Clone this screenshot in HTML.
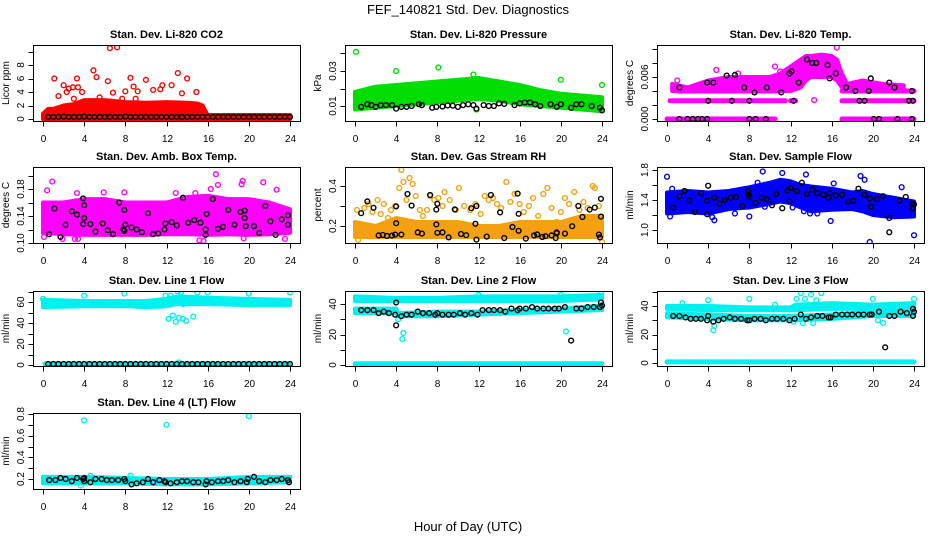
<!DOCTYPE html>
<html><head><meta charset="utf-8">
<style>
html,body{margin:0;padding:0;background:#fff;}
svg{display:block;font-family:"Liberation Sans",Arial,sans-serif;}
.t{font-weight:bold;font-size:11px;}
.tk{font-size:10px;}
</style></head>
<body>
<svg id="c" width="936" height="540" viewBox="0 0 936 540">
<text x="468" y="14" text-anchor="middle" font-size="13">FEF_140821  Std. Dev. Diagnostics</text>
<text x="468" y="531" text-anchor="middle" font-size="13">Hour of Day (UTC)</text>
</svg>
<script>
// ---------- data ----------
const xTicks=[0,4,8,12,16,20,24];
// CO2
const co2BandH=[0,0.5,1,2,3,4,6,8,10,12,14,15,15.5,16,24];
const co2BandLo=[0,0,0,0,0,0,0,0,0,0,0,0,0,0,0];
const co2BandHi=[0.8,1.5,1.5,2,2.2,2.8,2.8,2.5,2.4,2.5,2.4,2.3,2,0.6,0.6];
const co2OutH=[1.1,1.5,2,2.3,2.5,2.9,3,3.3,3.4,3.8,4.9,5.2,5.5,6.3,6.5,7.2,6.8,7.7,8,8.5,8.8,9.2,9,10,10.7,11.4,11.6,12.5,13.1,13.5,14,14.9];
const co2OutV=[6,3.4,5,4,4.5,4.7,3,6,4.7,4,7.2,6.2,3.2,5.6,10.5,10.6,3.9,3,4.1,6.1,4.8,4.1,3,5.8,4.3,4.4,5,5,6.8,3.8,6,4];
const co2BlkH=[0.5,1,1.5,2,2.5,3,3.5,4,4.5,5,5.5,6,6.5,7,7.5,8,8.5,9,9.5,10,10.5,11,11.5,12,12.5,13,13.5,14,14.5,15,15.5,16,16.5,17,17.5,18,18.5,19,19.5,20,20.5,21,21.5,22,22.5,23,23.5,24];
const co2BlkV=[0.3,0.3,0.3,0.35,0.3,0.3,0.3,0.35,0.3,0.3,0.3,0.3,0.3,0.3,0.3,0.35,0.3,0.3,0.3,0.3,0.3,0.3,0.3,0.3,0.3,0.3,0.3,0.3,0.3,0.3,0.3,0.3,0.3,0.3,0.3,0.3,0.3,0.3,0.3,0.3,0.3,0.3,0.3,0.3,0.3,0.3,0.3,0.3];
// Pressure
const prBandH=[0,2,4,6,8,10,12,14,16,18,20,22,24];
const prBandLo=[0.008,0.009,0.010,0.011,0.012,0.013,0.014,0.013,0.011,0.010,0.009,0.008,0.007];
const prBandHi=[0.018,0.021,0.022,0.023,0.024,0.025,0.026,0.024,0.022,0.019,0.017,0.016,0.015];
const prOutH=[0.1,4,8.1,11.5,20,24,11.8];
const prOutV=[0.041,0.030,0.032,0.028,0.025,0.022,0.008];
const prBlkH=[0.6,1.2,1.6,2,2.5,3,3.6,4,4.5,5,5.5,6.2,6.5,7.5,7.9,8.5,9,9.5,10,10.5,11,11.5,11.8,12.5,13,13.5,14,14.5,15.5,16,16.5,17,17.5,18,19,19.6,20,21,21.5,22,23,23.8,24];
const prBlkV=[0.0095,0.011,0.0105,0.0095,0.0105,0.0105,0.0105,0.0085,0.0095,0.0095,0.01,0.011,0.0105,0.009,0.0095,0.0097,0.0103,0.0102,0.0095,0.0105,0.011,0.0105,0.0085,0.0105,0.01,0.01,0.0115,0.0112,0.0105,0.0115,0.012,0.012,0.011,0.01,0.011,0.0095,0.011,0.009,0.011,0.011,0.01,0.009,0.0075];
// Li-820 Temp
const tmSegLvl=[0,0,0.0026,0.0026,0.0026,0.004,0.004];
const tmSegStart=[0,17,0.3,12,17,1,17];
const tmSegEnd=[10.5,24,11.5,12.5,24,11,24];
const tmBandH=[0.5,2,4,6,8,10,11,12,13,13.5,14,15,16,16.5,17,17.5,19,21,23];
const tmBandLo=[0.004,0.004,0.004,0.004,0.004,0.004,0.004,0.004,0.0045,0.0055,0.006,0.006,0.006,0.0055,0.0045,0.004,0.004,0.004,0.004];
const tmBandHi=[0.005,0.0045,0.0055,0.006,0.006,0.006,0.0065,0.0075,0.0085,0.009,0.009,0.0092,0.009,0.0085,0.0065,0.005,0.0055,0.005,0.0048];
const tmOutH=[16.5,1,4.8,6.9,10.5,11,14.3];
const tmOutV=[0.0102,0.0055,0.007,0.0065,0.0075,0.0068,0.0027];
const tmBlkH=[1.2,3.9,4.5,5.8,6.6,7.5,8.5,9.7,11.1,11.9,12.1,12.8,13.6,14.1,14.5,15.6,15.8,16.4,17.4,18.3,19.6,19.8,21.6,22.1,23.8,4,6.3,8,12.3,18.7,19.2,23.5,23.9,1.2,2,2.5,3,3.4,3.9,8,8.6,9.6,20.1,20.6,22.4,23.8];
const tmBlkV=[0.0045,0.0052,0.0052,0.0062,0.0063,0.0045,0.0038,0.0045,0.0038,0.0065,0.0068,0.0052,0.0085,0.008,0.008,0.0077,0.0058,0.0065,0.0045,0.004,0.004,0.0058,0.0052,0.0045,0.004,0.0026,0.0026,0.0026,0.0026,0.0026,0.0026,0.0026,0.0026,0,0,0,0,0,0,0,0,0,0,0,0,0];
// Amb box temp
const abBandH=[0,2,4,6,8,10,12,14,16,18,20,22,24];
const abBandLo=[0.115,0.113,0.112,0.112,0.112,0.112,0.113,0.113,0.112,0.113,0.112,0.113,0.115];
const abBandHi=[0.16,0.16,0.165,0.165,0.16,0.16,0.16,0.168,0.17,0.165,0.165,0.16,0.15];
const abOutH=[0.1,0.4,0.9,1.9,3.1,3.4,3.3,5.9,7.9,12.9,14.8,15.2,15.6,16.3,16.8,17,19.3,19.4,19.5,21.4,22.7,23.5];
const abOutV=[0.109,0.178,0.191,0.106,0.106,0.106,0.174,0.175,0.175,0.174,0.174,0.104,0.103,0.180,0.202,0.186,0.187,0.192,0.107,0.190,0.179,0.106];
const abBlkH=[0.6,1.1,1.7,2.2,2.8,3.3,3.9,3.9,4,4,4.6,5.1,5.8,6.3,6.8,7.4,7.8,7.9,7.9,8,8.6,9.1,9.6,10.2,10.7,11.2,11.8,11.9,12.5,13,13.6,14.1,14.7,15.3,15.8,15.8,15.9,16.5,17,17.5,18,18.6,19.2,19.6,19.6,19.7,20.5,21,21.6,22.1,22.6,23.2,23.8,23.8];
const abBlkV=[0.113,0.151,0.109,0.127,0.147,0.142,0.166,0.128,0.156,0.137,0.128,0.117,0.129,0.119,0.113,0.160,0.120,0.118,0.149,0.127,0.123,0.120,0.116,0.144,0.113,0.114,0.120,0.129,0.131,0.126,0.167,0.130,0.134,0.130,0.120,0.112,0.143,0.165,0.121,0.124,0.149,0.127,0.146,0.148,0.137,0.125,0.125,0.115,0.155,0.132,0.112,0.135,0.127,0.141];
// Gas stream RH
const rhBandH=[0,2,4,6,8,10,12,14,16,18,20,22,24];
const rhBandLo=[0.145,0.145,0.145,0.145,0.145,0.145,0.145,0.145,0.145,0.145,0.145,0.145,0.145];
const rhBandHi=[0.22,0.2,0.24,0.22,0.22,0.22,0.2,0.2,0.22,0.22,0.22,0.25,0.25];
const rhOutH=[0.2,0.3,0.9,1.3,1.7,2.2,2.5,2.8,3.2,3.5,3.9,4.3,4.5,4.7,5,5.3,5.6,5.9,6.3,6.6,7,7.3,7.7,8.1,8.5,8.7,9.2,9.8,10.1,10.6,11.2,11.7,12.2,12.6,13,13.4,13.8,14.2,14.7,15.1,15.5,16,16.4,16.9,17.3,17.8,18.3,18.7,19.1,19.6,20,20.4,20.8,21.3,21.8,22.2,22.6,23.1,23.3,23.7,24];
const rhOutV=[0.28,0.13,0.29,0.31,0.27,0.33,0.26,0.31,0.24,0.28,0.30,0.39,0.48,0.42,0.33,0.44,0.41,0.35,0.28,0.25,0.28,0.35,0.33,0.34,0.30,0.37,0.33,0.28,0.39,0.30,0.28,0.31,0.26,0.35,0.33,0.34,0.31,0.29,0.42,0.32,0.36,0.31,0.27,0.30,0.34,0.25,0.36,0.39,0.29,0.22,0.27,0.34,0.31,0.37,0.28,0.32,0.29,0.40,0.39,0.30,0.12];
const rhBlkH=[0.6,1.2,1.8,2.3,2.7,3.1,3.6,3.9,4,4,4.5,5.1,5.5,6.1,6.5,7.3,7.9,7.9,8,8,8.5,9.1,9.7,10.3,10.8,11.3,11.7,11.8,11.8,12.8,13.2,14.1,14.5,15.3,15.8,15.9,15.9,16.6,17.4,17.7,18.2,18.5,19.1,19.5,19.6,19.6,20.4,21.1,21.7,22.1,22.8,23.3,23.7,23.8,23.9,23.9];
const rhBlkV=[0.264,0.323,0.291,0.153,0.155,0.150,0.152,0.157,0.214,0.298,0.157,0.360,0.302,0.168,0.162,0.355,0.282,0.208,0.311,0.166,0.168,0.143,0.283,0.160,0.154,0.289,0.211,0.300,0.132,0.147,0.355,0.268,0.140,0.195,0.362,0.261,0.176,0.137,0.153,0.158,0.145,0.149,0.153,0.140,0.168,0.164,0.162,0.199,0.300,0.245,0.282,0.292,0.157,0.143,0.336,0.247];
// Sample flow
const sfBandH=[0,2,4,6,8,10,11,12,13,14,16,18,19,20,22,24];
const sfBandLo=[1.22,1.24,1.22,1.28,1.3,1.35,1.38,1.36,1.3,1.25,1.27,1.28,1.25,1.2,1.17,1.18];
const sfBandHi=[1.5,1.52,1.5,1.52,1.57,1.63,1.67,1.65,1.6,1.58,1.55,1.5,1.52,1.48,1.43,1.38];
const sfOutH=[0,0.3,0.5,4.4,4.6,6.6,8,8.8,9.3,9.5,11.2,12.2,13.5,13.9,14.6,15.9,16.2,18.8,19.2,19.7,24,22.8,13.3];
const sfOutV=[1.71,1.18,1.55,1.17,1.13,1.22,1.18,1.63,1.78,1.31,1.76,1.30,1.74,1.22,1.22,1.12,1.62,1.72,1.67,0.84,0.93,1.57,1.25];
const sfBlkH=[0.6,1.2,1.7,2.2,2.7,3.3,3.9,3.9,4,4.6,5.1,5.6,6.2,6.7,7.3,7.9,7.9,8,8.6,9.2,9.7,10.2,10.6,11.2,11.7,11.9,12,12.6,13.1,13.6,14.1,14.6,15.2,15.7,15.8,16.4,17,17.6,18.1,18.6,19.2,19.7,19.8,20.4,21,21.6,21.6,22.6,23.2,23.8,23.9,24];
const sfBlkV=[1.30,1.45,1.52,1.39,1.24,1.49,1.39,1.21,1.59,1.43,1.35,1.40,1.43,1.44,1.32,1.52,1.47,1.44,1.36,1.43,1.41,1.33,1.48,1.29,1.53,1.38,1.56,1.52,1.63,1.48,1.54,1.49,1.47,1.43,1.49,1.46,1.47,1.38,1.39,1.55,1.47,1.42,1.31,1.41,1.45,1.16,0.97,1.39,1.44,1.35,1.29,1.34];
// Line 1
const l1BandH=[0,4,8,10,12,13,14,16,20,24];
const l1BandLo=[55,56,56,55,56,58,58,58,57,57];
const l1BandHi=[62,61,61,61,63,65,65,64,63,62];
const l1SegLvl=[1];const l1SegStart=[0.2];const l1SegEnd=[24];
const l1OutH=[0,4,7.9,11.9,12.4,13.1,13.4,12.2,12.6,12.9,13.2,13.6,13.9,13.6,14.6,15,16,20,24,13.2];
const l1OutV=[63,66,68,66,66,70,69,44,47,41,45,44,42,58,46,69,69,68,69,2.5];
const l1BlkH=[0.5,1,1.5,2,2.5,3,3.5,4,4.5,5,5.5,6,6.5,7,7.5,8,8.5,9,9.5,10,10.5,11,11.5,12,12.5,13,13.5,14,14.5,15,15.5,16,16.5,17,17.5,18,18.5,19,19.5,20,20.5,21,21.5,22,22.5,23,23.5,24];
const l1BlkV=[1,1,1,1,1,1,1,1,1,1,1,1,1,1,1,1,1,1,1,1,1,1,1,1,1,1,1,1,1,1,1,1,1,1,1,1,1,1,1,1,1,1,1,1,1,1,1,1];
// Line 2
const l2BandH=[0,4,8,12,16,20,24];
const l2BandLo=[42,42,42,42,42,42,43];
const l2BandHi=[45,44,44,45,45,45,46];
const l2Band2H=[0,4,4.2,8,12,16,20,24];
const l2Band2Lo=[34,34,32,32,33,34,35,36];
const l2Band2Hi=[37,37,34,35,35,36,37,39];
const l2SegLvl=[0.8];const l2SegStart=[0];const l2SegEnd=[24];
const l2OutH=[4.6,4.7,20.5,4.2,23.9,12,20];
const l2OutV=[17,21,22,30,48,46,46];
const l2BlkH=[0.6,1.2,1.8,2.3,2.8,3.3,3.9,4,4,4.5,5,5.5,6.1,6.6,7.2,7.8,8,8.5,9.1,9.6,10.2,10.7,11.3,11.9,12.4,13,13.5,14.1,14.6,15.2,15.8,16,16.6,17.2,17.7,18.3,18.8,19.4,19.8,20.4,21,21.5,22,22.6,23.2,23.8,23.9,24];
const l2BlkV=[36,36,36,34,35,34,33,41,26,32,33,33,35,34,34,33,34,33,33,33,34,33,34,33,36,36,36,36,35,37,36,37,37,38,37,37,37,37,37,38,16,37,37,38,38,38,41,39];
// Line 3
const l3BandH=[0,4,8,12,12.5,16,20,24];
const l3BandLo=[38,37,37,37,37,38,38,39];
const l3BandHi=[40,40,39,39,41,42,41,42];
const l3Band2H=[0,4,8,12,16,20,24];
const l3Band2Lo=[32,31,30,30,31,33,33];
const l3Band2Hi=[35,34,33,33,34,36,37];
const l3SegLvl=[0.8];const l3SegStart=[0];const l3SegEnd=[24];
const l3OutH=[1.5,4,4.5,4.6,8,12.6,13,13.4,14,14.5,15,12.3,13.2,14.2,20,20.5,21,24,10.5];
const l3OutV=[42,44,23,26,45,45,49,45,48,44,49,29,28,28,45,30,28,45,41];
const l3BlkH=[0.6,1.2,1.8,2.3,2.8,3.3,3.9,4,4.5,5,5.5,6.1,6.6,7.2,7.8,8,8.5,9.1,9.6,10.2,10.7,11.3,11.9,12.4,13,13.5,14,14.6,15.1,15.7,15.9,16.4,17,17.5,18,18.6,19.1,19.7,19.9,20.6,21.2,21.6,22.1,22.7,23.3,23.9,23.9,24];
const l3BlkV=[33,33,32,31,31,31,30,33,29,30,31,32,31,31,30,30,31,31,30,31,31,31,30,31,34,31,32,33,33,32,32,34,34,34,34,34,34,34,34,36,11,33,33,36,35,33,38,36];
// Line 4
const l4BandH=[0,4,8,12,16,20,24];
const l4BandLo=[0.16,0.16,0.16,0.15,0.15,0.16,0.17];
const l4BandHi=[0.22,0.22,0.21,0.2,0.2,0.22,0.22];
const l4OutH=[4,12,20,3.7,4.6,8.5];
const l4OutV=[0.74,0.7,0.78,0.14,0.23,0.23];
const l4BlkH=[0.6,1.2,1.7,2.2,2.8,3.3,3.9,4,4,4.6,5.1,5.7,6.2,6.7,7.3,7.9,8,8.6,9.1,9.7,10.2,10.7,11.3,11.8,11.9,12.4,13,13.5,14,14.6,15.1,15.8,15.9,16.4,17,17.5,18,18.6,19.2,19.8,19.9,20.5,21,21.6,22.1,22.7,23.2,23.8,23.9];
const l4BlkV=[0.19,0.19,0.21,0.2,0.18,0.21,0.2,0.21,0.18,0.17,0.2,0.2,0.19,0.19,0.19,0.2,0.18,0.15,0.16,0.17,0.2,0.17,0.19,0.18,0.17,0.16,0.17,0.18,0.18,0.17,0.17,0.15,0.18,0.17,0.18,0.18,0.19,0.17,0.18,0.17,0.2,0.22,0.18,0.17,0.19,0.19,0.2,0.19,0.17];

// ---------- layout ----------
const colX=[33,345,657], boxW=267;
const rowY=[[45,121],[167,243],[291,366],[413,489]];
const NS='http://www.w3.org/2000/svg';
const svg=document.getElementById('c');
function mk(tag,attrs,parent){const e=document.createElementNS(NS,tag);for(const k in attrs)e.setAttribute(k,attrs[k]);(parent||svg).appendChild(e);return e;}

const panels=[
 {key:'co2',c:0,r:0,title:'Stan. Dev. Li-820 CO2',ylab:'Licor ppm',col:'#ff0000',ref:[0,119,8,65],ticks:[0,2,4,6,8,10],labs:[0,2,4,6,8],fmt:v=>String(v),
  bands:[[co2BandH,co2BandLo,co2BandHi]],segs:null,out:[co2OutH,co2OutV],blk:[co2BlkH,co2BlkV]},
 {key:'pressure',c:1,r:0,title:'Stan. Dev. Li-820 Pressure',ylab:'kPa',col:'#00dd00',ref:[0.01,106,0.03,71],ticks:[0.01,0.02,0.03,0.04],labs:[0.01,0.03],fmt:v=>v.toFixed(2),
  bands:[[prBandH,prBandLo,prBandHi]],segs:null,out:[prOutH,prOutV],blk:[prBlkH,prBlkV]},
 {key:'li820-temp',c:2,r:0,title:'Stan. Dev. Li-820 Temp.',ylab:'degrees C',col:'#ff00ff',ref:[0,119,0.002,105],ticks:[0,0.002,0.004,0.006,0.008,0.010],labs:[0,0.006],fmt:v=>v.toFixed(3),
  bands:[[tmBandH,tmBandLo,tmBandHi]],segs:[tmSegLvl,tmSegStart,tmSegEnd],out:[tmOutH,tmOutV],blk:[tmBlkH,tmBlkV]},
 {key:'amb-box-temp',c:0,r:1,title:'Stan. Dev. Amb. Box Temp.',ylab:'degrees C',col:'#ff00ff',ref:[0.10,243,0.14,216],ticks:[0.10,0.12,0.14,0.16,0.18,0.20],labs:[0.10,0.14,0.18],fmt:v=>v.toFixed(2),
  bands:[[abBandH,abBandLo,abBandHi]],segs:null,out:[abOutH,abOutV],blk:[abBlkH,abBlkV]},
 {key:'gas-stream-rh',c:1,r:1,title:'Stan. Dev. Gas Stream RH',ylab:'percent',col:'#f5a010',ref:[0.2,226,0.4,186],ticks:[0.2,0.3,0.4],labs:[0.2,0.4],fmt:v=>v.toFixed(1),
  bands:[[rhBandH,rhBandLo,rhBandHi]],segs:null,out:[rhOutH,rhOutV],blk:[rhBlkH,rhBlkV]},
 {key:'sample-flow',c:2,r:1,title:'Stan. Dev. Sample Flow',ylab:'ml/min',col:'#0000ff',ref:[1.0,230,1.4,200],ticks:[1.0,1.2,1.4,1.6,1.8],labs:[1.0,1.4,1.8],fmt:v=>v.toFixed(1),
  bands:[[sfBandH,sfBandLo,sfBandHi]],segs:null,out:[sfOutH,sfOutV],blk:[sfBlkH,sfBlkV]},
 {key:'line1-flow',c:0,r:2,title:'Stan. Dev. Line 1 Flow',ylab:'ml/min',col:'#00f0f0',ref:[0,365,60,302],ticks:[0,10,20,30,40,50,60,70],labs:[0,20,40,60],fmt:v=>String(v),
  bands:[[l1BandH,l1BandLo,l1BandHi]],segs:[l1SegLvl,l1SegStart,l1SegEnd],out:[l1OutH,l1OutV],blk:[l1BlkH,l1BlkV]},
 {key:'line2-flow',c:1,r:2,title:'Stan. Dev. Line 2 Flow',ylab:'ml/min',col:'#00f0f0',ref:[0,365,40,304],ticks:[0,10,20,30,40],labs:[0,20,40],fmt:v=>String(v),
  bands:[[l2BandH,l2BandLo,l2BandHi],[l2Band2H,l2Band2Lo,l2Band2Hi]],segs:[l2SegLvl,l2SegStart,l2SegEnd],out:[l2OutH,l2OutV],blk:[l2BlkH,l2BlkV]},
 {key:'line3-flow',c:2,r:2,title:'Stan. Dev. Line 3 Flow',ylab:'ml/min',col:'#00f0f0',ref:[0,363,40,306],ticks:[0,10,20,30,40,50],labs:[0,20,40],fmt:v=>String(v),
  bands:[[l3BandH,l3BandLo,l3BandHi],[l3Band2H,l3Band2Lo,l3Band2Hi]],segs:[l3SegLvl,l3SegStart,l3SegEnd],out:[l3OutH,l3OutV],blk:[l3BlkH,l3BlkV]},
 {key:'line4-flow',c:0,r:3,title:'Stan. Dev. Line 4 (LT) Flow',ylab:'ml/min',col:'#00f0f0',ref:[0.2,479,0.8,414],ticks:[0.2,0.3,0.4,0.5,0.6,0.7,0.8],labs:[0.2,0.4,0.6,0.8],fmt:v=>v.toFixed(1),
  bands:[[l4BandH,l4BandLo,l4BandHi]],segs:null,out:[l4OutH,l4OutV],blk:[l4BlkH,l4BlkV]}
];

panels.forEach((p,pi)=>{
  const bx=colX[p.c], by=rowY[p.r][0], bb=rowY[p.r][1], bh=bb-by;
  const x0=bx+10, x24=bx+boxW-10;
  const xs=h=>x0+(x24-x0)*h/24;
  const [v1,p1,v2,p2]=p.ref;
  const ys=v=>p1+(v-v1)*(p2-p1)/(v2-v1);
  const g=mk('g',{});
  
  
  const clipId='clip'+pi;
  const cp=mk('clipPath',{id:clipId},g);
  mk('rect',{x:bx,y:by,width:boxW,height:bh},cp);
  const title=mk('text',{x:bx+boxW/2,y:by-7,'text-anchor':'middle',class:'t'},g);
  title.textContent=p.title;
  
  
  const yl=mk('text',{x:0,y:0,'text-anchor':'middle',class:'tk',transform:`translate(${bx-24},${(by+bb)/2}) rotate(-90)`},g);
  yl.textContent=p.ylab;
  
  
  const data=mk('g',{'clip-path':`url(#${clipId})`},g);
  
  
  // bands
  p.bands.forEach(b=>{
    const [H,L,U]=b;
    let pts=[];
    for(let i=0;i<H.length;i++)pts.push(xs(H[i])+','+ys(U[i]));
    for(let i=H.length-1;i>=0;i--)pts.push(xs(H[i])+','+ys(L[i]));
    const poly=mk('polygon',{points:pts.join(' '),fill:p.col,stroke:p.col,'stroke-width':4,'stroke-linejoin':'round'},data);
    
    
  });
  if(p.segs){
    const [Lv,S,E]=p.segs;
    for(let i=0;i<Lv.length;i++){
      const ln=mk('line',{x1:xs(S[i]),x2:xs(E[i]),y1:ys(Lv[i]),y2:ys(Lv[i]),stroke:p.col,'stroke-width':5,'stroke-linecap':'round'},data);
      
      
    }
  }
  const [oh,ov]=p.out;
  for(let i=0;i<oh.length;i++){
    const c=mk('circle',{cx:xs(oh[i]),cy:ys(ov[i]),r:2.4,fill:'none',stroke:p.col,'stroke-width':1.4},data);
    
    
  }
  const [kh,kv]=p.blk;
  for(let i=0;i<kh.length;i++){
    const c=mk('circle',{cx:xs(kh[i]),cy:ys(kv[i]),r:2.4,fill:'none',stroke:'#000','stroke-width':1.4},data);
    
    
  }
  // box
  const box=mk('rect',{x:bx+0.5,y:by+0.5,width:boxW,height:bh,fill:'none',stroke:'#000','stroke-width':1},g);
  
  
  // x axis
  const xa=mk('g',{},g);
  
  
  xTicks.forEach(t=>{
    const x=Math.round(xs(t))+0.5;
    mk('line',{x1:x,x2:x,y1:bb+0.5,y2:bb+5.5,stroke:'#000'},xa);
    const tx=mk('text',{x:x,y:bb+21,'text-anchor':'middle',class:'tk'},xa);
    tx.textContent=t;
  });
  // y axis
  const ya=mk('g',{},g);
  
  
  p.ticks.forEach(t=>{
    const y=Math.round(ys(t))+0.5;
    if(y<by-1||y>bb+1)return;
    mk('line',{x1:bx-4.5,x2:bx+0.5,y1:y,y2:y,stroke:'#000'},ya);
  });
  p.labs.forEach(t=>{
    const y=ys(t);
    const tx=mk('text',{x:0,y:0,'text-anchor':'middle',class:'tk',transform:`translate(${bx-9},${y}) rotate(-90)`},ya);
    tx.textContent=p.fmt(t);
  });
});
</script>
</body></html>
